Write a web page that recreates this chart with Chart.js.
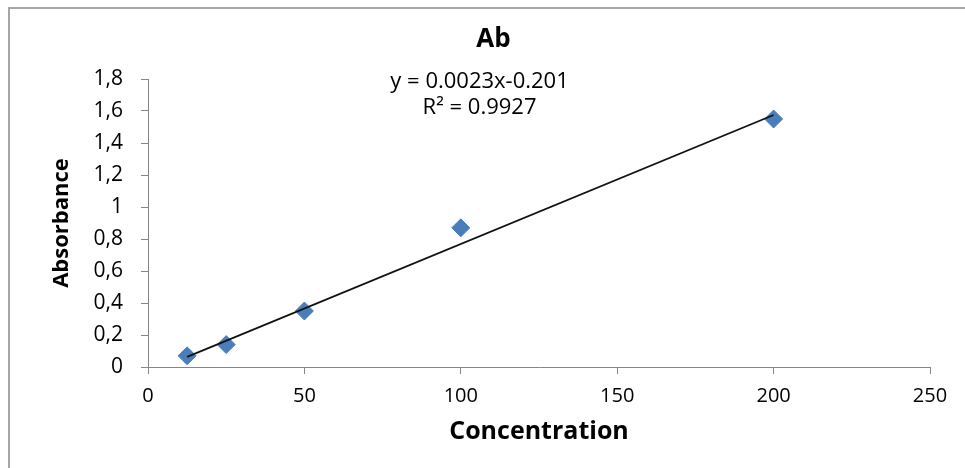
<!DOCTYPE html>
<html>
<head>
<meta charset="utf-8">
<script src="https://cdn.jsdelivr.net/npm/chart.js@4.4.1/dist/chart.umd.min.js"></script>
<style>
  html, body { margin: 0; padding: 0; background: #fff; }
  #wrap { width: 965px; height: 468px; }
</style>
</head>
<body>
<div id="wrap"><canvas id="chart" width="965" height="468"></canvas></div>
<script>
// values
const concentration = [12.5, 25, 50, 100, 200];
const absorbance = [0.07, 0.14, 0.35, 0.87, 1.55];
// trendline end points as drawn
const trendX = [12.5, 200];
const trendY = [0.063, 1.575];
const chartTitle = 'Ab';
const equationLines = ['y = 0.0023x-0.201', 'R\u00b2 = 0.9927'];

const axisGrey = '#868686';

// frame + title + trendline label
const decorations = {
  id: 'decorations',
  beforeDraw(chart) {
    const ctx = chart.ctx;
    ctx.save();
    ctx.strokeStyle = '#a6a6a6';
    ctx.lineWidth = 2;
    ctx.beginPath();
    ctx.moveTo(9, chart.height);
    ctx.lineTo(9, 8);
    ctx.lineTo(chart.width, 8);
    ctx.stroke();
    ctx.restore();
  },
  afterDraw(chart) {
    const ctx = chart.ctx;
    const x = chart.scales.x, y = chart.scales.y;
    ctx.save();
    ctx.fillStyle = '#000';
    ctx.textAlign = 'center';
    ctx.textBaseline = 'middle';
    ctx.font = 'bold 26px "Open Sans", sans-serif';
    ctx.fillText(chartTitle, chart.width / 2 + 11, 40);
    ctx.font = '22px "Open Sans", sans-serif';
    const cx = x.getPixelForValue(106);
    ctx.fillText(equationLines[0], cx, y.getPixelForValue(1.78));
    ctx.fillText(equationLines[1], cx, y.getPixelForValue(1.62));
    ctx.restore();
  }
};

const points = concentration.map((c, i) => ({ x: c, y: absorbance[i] }));
const trend = trendX.map((c, i) => ({ x: c, y: trendY[i] }));

new Chart(document.getElementById('chart'), {
  type: 'scatter',
  data: {
    datasets: [{
      label: 'Trendline',
      type: 'line',
      data: trend,
      borderColor: '#111',
      borderWidth: 1.8,
      pointRadius: 0,
      fill: false,
      order: 0
    }, {
      label: 'Ab',
      data: points,
      pointStyle: 'rectRot',
      pointRadius: 9,
      pointHoverRadius: 9,
      backgroundColor: '#4a7ebb',
      borderColor: '#4a7ebb',
      borderWidth: 1,
      order: 1
    }]
  },
  options: {
    responsive: false,
    animation: false,
    layout: { padding: { top: 79, right: 35, left: 0, bottom: 0 } },
    plugins: {
      legend: { display: false },
      title: { display: false },
      tooltip: { enabled: false }
    },
    scales: {
      x: {
        type: 'linear',
        min: 0,
        max: 250,
        afterFit: s => { s.height = 101; },
        ticks: {
          stepSize: 50,
          color: '#000',
          padding: 10,
          font: { family: '"Open Sans", sans-serif', size: 20 }
        },
        grid: {
          display: true,
          drawOnChartArea: false,
          drawTicks: true,
          tickLength: 7,
          color: axisGrey
        },
        border: { display: true, color: axisGrey, width: 1 },
        title: {
          display: true,
          text: 'Concentration',
          color: '#000',
          padding: { top: 0, bottom: 21 },
          font: { family: '"Open Sans", sans-serif', size: 25, weight: 'bold' }
        }
      },
      y: {
        min: 0,
        max: 1.8,
        afterFit: s => { s.width = 148; },
        ticks: {
          stepSize: 0.2,
          color: '#000',
          padding: 18,
          font: { family: '"Open Sans", sans-serif', size: 21 },
          callback: v => String(Math.round(v * 10) / 10).replace('.', ',')
        },
        grid: {
          display: true,
          drawOnChartArea: false,
          drawTicks: true,
          tickLength: 7,
          color: axisGrey
        },
        border: { display: true, color: axisGrey, width: 1 },
        title: {
          display: true,
          text: 'Absorbance',
          color: '#000',
          padding: { top: 49, bottom: 0 },
          font: { family: '"Open Sans", sans-serif', size: 22, weight: 'bold' }
        }
      }
    }
  },
  plugins: [decorations]
});
</script>
</body>
</html>
